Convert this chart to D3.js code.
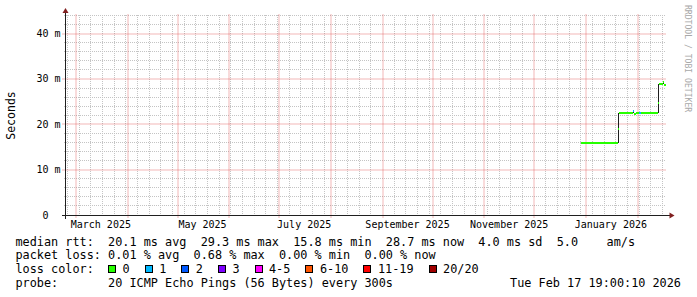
<!DOCTYPE html>
<html>
<head>
<meta charset="utf-8">
<script src="https://cdn.jsdelivr.net/npm/d3@7"></script>
<style>
  body { margin: 0; background: #fff; }
  svg text { font-family: "DejaVu Sans Mono", monospace; white-space: pre; }
</style>
</head>
<body>
<svg id="chart" width="697" height="297"></svg>
<script>
// ---------------------------------------------------------------------------
// data (daily buckets, values in ms)
// ---------------------------------------------------------------------------
const endTime = new Date(Date.UTC(2026, 1, 17, 19, 0, 10));
const spanDays = 360;
const firstDay = new Date(Date.UTC(2025, 11, 29));

const medianMs = [
  15.9, 15.9, 15.9, 15.9, 15.9, 15.9, 15.9, 15.9, 15.9, 15.9,
  15.9, 15.9, 15.9, 15.9, 15.9, 15.9, 15.9, 15.9, 15.9, 15.9,
  15.8, 15.8, 18.9,
  22.5, 22.5, 22.5, 22.5, 22.5, 22.5, 22.5, 22.5,
  23.0, 22.2, 22.5, 22.5, 22.5,
  22.5, 22.5, 22.5, 22.5, 22.5, 22.5, 22.5, 22.5, 22.5, 22.5,
  24.7, 28.8, 28.8, 29.3, 28.7
];
const lossPings = [
  0, 0, 0, 0, 0, 0, 0, 0, 0, 0,
  0, 0, 0, 0, 0, 0, 0, 0, 0, 0,
  0, 0, 0,
  0, 0, 0, 0, 0, 0, 0, 0,
  1, 0, 0, 0, 1,
  0, 0, 0, 0, 0, 0, 0, 0, 0, 0,
  0, 0, 0, 0, 0
];
const smokeLoMs = [
  15.6, 15.8, 15.8, 15.8, 15.8, 15.8, 15.8, 15.8, 15.8, 15.8,
  15.8, 15.8, 15.8, 15.8, 15.8, 15.8, 15.8, 15.8, 15.8, 15.8,
  15.7, 15.7, 15.8,
  22.4, 22.4, 22.4, 22.4, 22.4, 22.4, 22.4, 22.4,
  22.4, 22.1, 22.4, 22.4, 22.4,
  22.4, 22.4, 22.4, 22.4, 22.4, 22.4, 22.4, 22.4, 22.4, 22.4,
  22.5, 28.7, 28.7, 28.8, 28.6
];
const smokeHiMs = [
  16.0, 16.0, 16.0, 16.0, 16.0, 16.0, 16.0, 16.0, 16.0, 16.0,
  16.0, 16.0, 16.0, 16.0, 16.0, 16.0, 16.0, 16.0, 16.0, 16.0,
  15.9, 15.9, 22.5,
  22.6, 22.6, 22.6, 22.6, 22.6, 22.6, 22.6, 22.6,
  23.2, 22.3, 22.6, 22.6, 22.6,
  22.6, 22.6, 22.6, 22.6, 22.6, 22.6, 22.6, 22.6, 22.6, 22.6,
  28.8, 28.9, 28.9, 29.4, 28.9
];

const lossLabels = ["0", "1", "2", "3", "4-5", "6-10", "11-19", "20/20"];
const lossColors = ["#26ff00", "#00b8ff", "#0059ff", "#7e00ff", "#ff00ff", "#ff5500", "#ff0000", "#a10000"];
const lossBreaks = [1, 2, 3, 4, 6, 11, 20];

const rttStats = ["20.1 ms avg", "29.3 ms max", "15.8 ms min", "28.7 ms now", "4.0 ms sd", "5.0    am/s"];
const lossStats = ["0.01 % avg", "0.68 % max", "0.00 % min", "0.00 % now"];
const probeText = "20 ICMP Echo Pings (56 Bytes) every 300s";
const stampText = "Tue Feb 17 19:00:10 2026";

// ---------------------------------------------------------------------------
// layout
// ---------------------------------------------------------------------------
const plot = { left: 65.5, right: 665.5, top: 15, bottom: 215 };
const legendFont = 11.84;
const axisFont = 10;
const cw = legendFont * 0.602;
const axisCw = axisFont * 0.602;

const startTime = d3.utcDay.offset(endTime, -spanDays);

const xScale = d3.scaleUtc().domain([startTime, endTime]).range([plot.left, plot.right]);
const yScale = d3.scaleLinear().domain([0, 0.0441]).range([plot.bottom, plot.top]);
const lossColor = d3.scaleThreshold().domain(lossBreaks).range(lossColors);

const px = (v) => Math.floor(v) + 0.5;

const svg = d3.select("#chart");
svg.append("rect").attr("width", 697).attr("height", 297).attr("fill", "#fff");

const gridColor = "rgb(196,196,196)";
const mgridColor = "rgba(222,79,79,0.8)";

// --- grid: horizontal
const yMinor = d3.range(0, 45, 2).filter((v) => v % 10 !== 0).map((v) => v / 1000);
const yMajor = d3.range(0, 45, 10).map((v) => v / 1000);

const grid = svg.append("g");

grid.selectAll("line.ymin").data(yMinor).join("line")
  .attr("class", "ymin")
  .attr("x1", plot.left - 2).attr("x2", plot.right)
  .attr("y1", (d) => px(yScale(d))).attr("y2", (d) => px(yScale(d)))
  .attr("stroke", gridColor).attr("stroke-dasharray", "1,1")
  .attr("shape-rendering", "crispEdges");

// --- grid: vertical (weeks minor, months major)
const months = d3.utcMonth.range(startTime, endTime);
const weeks = d3.utcMonday.range(startTime, endTime)
  .filter((d) => !months.some((m) => Math.abs(xScale(m) - xScale(d)) < 1.5));

grid.selectAll("line.xmin").data(weeks).join("line")
  .attr("class", "xmin")
  .attr("x1", (d) => px(xScale(d))).attr("x2", (d) => px(xScale(d)))
  .attr("y1", plot.top).attr("y2", plot.bottom + 2)
  .attr("stroke", gridColor).attr("stroke-dasharray", "1,1")
  .attr("shape-rendering", "crispEdges");

// major lines straddle a pixel edge, as the rrdtool original does
grid.selectAll("line.ymaj").data(yMajor.filter((v) => v > 0)).join("line")
  .attr("class", "ymaj")
  .attr("x1", plot.left - 3).attr("x2", plot.right)
  .attr("y1", (d) => Math.round(yScale(d))).attr("y2", (d) => Math.round(yScale(d)))
  .attr("stroke", mgridColor).attr("stroke-dasharray", "1,1");

grid.selectAll("line.xmaj").data(months).join("line")
  .attr("class", "xmaj")
  .attr("x1", (d) => Math.round(xScale(d))).attr("x2", (d) => Math.round(xScale(d)))
  .attr("y1", plot.top - 0.5).attr("y2", plot.bottom + 3.5)
  .attr("stroke", mgridColor).attr("stroke-dasharray", "1,1");

// --- smoke + median
const days = medianMs.map((m, i) => {
  const t0 = d3.utcDay.offset(firstDay, i);
  const t1 = d3.min([d3.utcDay.offset(firstDay, i + 1), endTime]);
  return { t0, t1, med: m / 1000, lo: smokeLoMs[i] / 1000, hi: smokeHiMs[i] / 1000, loss: lossPings[i] };
});

const bx0 = (d) => Math.round(xScale(d.t0));
const bw = (d) => Math.max(1, Math.round(xScale(d.t1)) - Math.round(xScale(d.t0)));

const marks = svg.append("g").attr("shape-rendering", "crispEdges");

marks.selectAll("rect.smoke").data(days).join("rect")
  .attr("class", "smoke")
  .attr("x", bx0).attr("width", bw)
  .attr("y", (d) => Math.round(yScale(d.hi)))
  .attr("height", (d) => Math.max(1, Math.round(yScale(d.lo)) - Math.round(yScale(d.hi))))
  .attr("fill", "#1e1e1e");

marks.selectAll("rect.median").data(days).join("rect")
  .attr("class", "median")
  .attr("x", bx0).attr("width", bw)
  .attr("y", (d) => Math.round(yScale(d.med)) - 1)
  .attr("height", 2)
  .attr("fill", (d) => lossColor(d.loss));

// --- axes
const axis = svg.append("g").attr("shape-rendering", "crispEdges");
axis.append("line")
  .attr("x1", plot.left - 4).attr("x2", plot.right + 4)
  .attr("y1", plot.bottom + 0.5).attr("y2", plot.bottom + 0.5)
  .attr("stroke", "#1f1f1f");
axis.append("line")
  .attr("x1", plot.left).attr("x2", plot.left)
  .attr("y1", plot.bottom + 4).attr("y2", plot.top - 2)
  .attr("stroke", "#1f1f1f");

svg.append("path")
  .attr("d", `M${plot.right + 4},${plot.bottom - 2.5}L${plot.right + 9},${plot.bottom + 0.5}L${plot.right + 4},${plot.bottom + 3.5}Z`)
  .attr("fill", "#801f1f");
svg.append("path")
  .attr("d", `M${plot.left - 3},${plot.top - 2}L${plot.left},${plot.top - 7}L${plot.left + 3},${plot.top - 2}Z`)
  .attr("fill", "#801f1f");

// --- tick labels
const yLabel = (v) => (v === 0 ? "0  " : `${Math.round(v * 1000)} m`);
svg.append("g").selectAll("text").data(yMajor).join("text")
  .attr("x", (d) => 60.5 - yLabel(d).length * axisCw)
  .attr("y", (d) => px(yScale(d)) + 3.7)
  .attr("font-size", axisFont)
  .attr("fill", "#000")
  .text(yLabel);

const labelMonths = d3.utcMonth.every(2).range(d3.utcMonth.floor(startTime), endTime)
  .map((m) => ({ m, t: d3.utcDay.offset(m, 15) }))
  .filter((d) => d.t > startTime && d.t < endTime);
const fmt = d3.utcFormat("%B %Y");
svg.append("g").selectAll("text").data(labelMonths).join("text")
  .attr("x", (d) => xScale(d.t))
  .attr("y", 228)
  .attr("text-anchor", "middle")
  .attr("font-size", axisFont)
  .attr("fill", "#000")
  .text((d) => fmt(d.m));

svg.append("text")
  .attr("transform", `translate(15,${(plot.top + plot.bottom) / 2 + 0.5}) rotate(-90)`)
  .attr("text-anchor", "middle")
  .attr("font-size", 11.5)
  .attr("fill", "#000")
  .text("Seconds");

svg.append("text")
  .attr("transform", "translate(685,5) rotate(90)")
  .attr("font-size", 8.1)
  .attr("fill", "#a8a8a8")
  .text("RRDTOOL / TOBI OETIKER");

// --- legend
const legendX = 15.5;
const rowY = (i) => 245.5 + i * 13.9;
const legend = svg.append("g").attr("font-size", legendFont).attr("fill", "#000");

legend.append("text").attr("x", legendX).attr("y", rowY(0))
  .text("median rtt:  " + rttStats.join("  "));
legend.append("text").attr("x", legendX).attr("y", rowY(1))
  .text("packet loss: " + lossStats.join("  "));
legend.append("text").attr("x", legendX).attr("y", rowY(2))
  .text("loss color:");

let bx = 108;
lossLabels.forEach((lab, i) => {
  legend.append("rect")
    .attr("x", bx + 0.5).attr("y", 265.5).attr("width", 7).attr("height", 7)
    .attr("fill", lossColors[i]).attr("stroke", "#000").attr("stroke-width", 1)
    .attr("shape-rendering", "crispEdges");
  legend.append("text").attr("x", bx + 14.5).attr("y", rowY(2)).text(lab);
  bx = bx + 14.5 + lab.length * cw + 15;
});

legend.append("text").attr("x", legendX).attr("y", rowY(3))
  .text("probe:       " + probeText);
legend.append("text").attr("x", 681).attr("y", rowY(3)).attr("text-anchor", "end")
  .text(stampText);
</script>
</body>
</html>
